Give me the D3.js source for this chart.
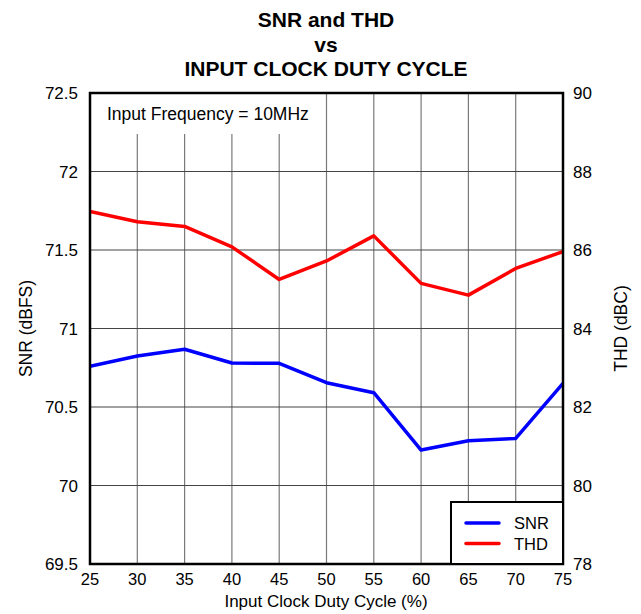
<!DOCTYPE html>
<html lang="en">
<head>
<meta charset="UTF-8">
<title>SNR and THD vs Input Clock Duty Cycle</title>
<script src="https://d3js.org/d3.v7.min.js"></script>
<style>
    body { margin: 0; background: #fff; }
    svg text { font-family: "Liberation Sans", Arial, sans-serif; fill: #000; }
</style>
</head>
<body>
<svg id="chart" width="641" height="614"></svg>
<script>
    // duty cycle (%)
    const dutyCycle = [25, 30, 35, 40, 45, 50, 55, 60, 65, 70, 75];
    // SNR (dBFS), left axis
    const snr = [70.76, 70.825, 70.868, 70.78, 70.778, 70.655, 70.591, 70.226, 70.285, 70.30, 70.651];
    // THD (dBC), right axis
    const thd = [86.98, 86.72, 86.60, 86.08, 85.25, 85.72, 86.36, 85.15, 84.85, 85.53, 85.96];

    const snrTicks = [69.5, 70, 70.5, 71, 71.5, 72, 72.5];
    const thdTicks = [78, 80, 82, 84, 86, 88, 90];

    const titleLines = ["SNR and THD", "vs", "INPUT CLOCK DUTY CYCLE"];

    const svg = d3.select("#chart");
    const margin = { left: 90, right: 563, top: 93, bottom: 564 };

    const x = d3.scaleLinear().domain([25, 75]).range([margin.left, margin.right]);
    const yL = d3.scaleLinear().domain([69.5, 72.5]).range([margin.bottom, margin.top]);
    const yR = d3.scaleLinear().domain([78, 90]).range([margin.bottom, margin.top]);

    // grid
    svg.append("g")
        .selectAll("line")
        .data(dutyCycle.slice(1, -1))
        .join("line")
        .attr("x1", d => x(d)).attr("x2", d => x(d))
        .attr("y1", margin.top).attr("y2", margin.bottom)
        .attr("stroke", "#7a7a7a").attr("stroke-width", 1.2);

    svg.append("g")
        .selectAll("line")
        .data(snrTicks.slice(1, -1))
        .join("line")
        .attr("x1", margin.left).attr("x2", margin.right)
        .attr("y1", d => yL(d)).attr("y2", d => yL(d))
        .attr("stroke", "#444").attr("stroke-width", 1.2);

    // annotation box hides the gridlines behind the text
    svg.append("rect")
        .attr("x", margin.left + 1).attr("y", margin.top)
        .attr("width", 224).attr("height", 41)
        .attr("fill", "#fff");
    svg.append("text")
        .attr("x", 107).attr("y", 120)
        .style("font-size", "17.5px")
        .text("Input Frequency = 10MHz");

    // lines
    const lineL = d3.line().x((d, i) => x(dutyCycle[i])).y(d => yL(d));
    const lineR = d3.line().x((d, i) => x(dutyCycle[i])).y(d => yR(d));

    const clipId = "plotclip";
    svg.append("clipPath").attr("id", clipId)
        .append("rect")
        .attr("x", margin.left).attr("y", margin.top)
        .attr("width", margin.right - margin.left).attr("height", margin.bottom - margin.top);

    svg.append("path").datum(thd)
        .attr("d", lineR)
        .attr("clip-path", `url(#${clipId})`)
        .attr("fill", "none").attr("stroke", "#ff0000").attr("stroke-width", 3.5)
        .attr("stroke-linejoin", "round");

    svg.append("path").datum(snr)
        .attr("d", lineL)
        .attr("clip-path", `url(#${clipId})`)
        .attr("fill", "none").attr("stroke", "#0000ff").attr("stroke-width", 3.5)
        .attr("stroke-linejoin", "round");

    // frame
    svg.append("rect")
        .attr("x", margin.left).attr("y", margin.top)
        .attr("width", margin.right - margin.left).attr("height", margin.bottom - margin.top)
        .attr("fill", "none").attr("stroke", "#000").attr("stroke-width", 2.5);

    // tick labels
    svg.append("g").selectAll("text")
        .data(snrTicks)
        .join("text")
        .attr("x", 78).attr("y", d => yL(d) + 6)
        .attr("text-anchor", "end")
        .style("font-size", "17px")
        .text(d => d);

    svg.append("g").selectAll("text")
        .data(thdTicks)
        .join("text")
        .attr("x", 573).attr("y", d => yR(d) + 6)
        .style("font-size", "17px")
        .text(d => d);

    svg.append("g").selectAll("text")
        .data(dutyCycle)
        .join("text")
        .attr("x", d => x(d)).attr("y", 585)
        .attr("text-anchor", "middle")
        .style("font-size", "16.5px")
        .text(d => d);

    // axis titles
    svg.append("text")
        .attr("x", 326).attr("y", 607)
        .attr("text-anchor", "middle")
        .style("font-size", "17px")
        .text("Input Clock Duty Cycle (%)");

    svg.append("text")
        .attr("transform", `translate(32,${(margin.top + margin.bottom) / 2}) rotate(-90)`)
        .attr("text-anchor", "middle")
        .style("font-size", "17.5px")
        .text("SNR (dBFS)");

    svg.append("text")
        .attr("transform", `translate(627,${(margin.top + margin.bottom) / 2}) rotate(-90)`)
        .attr("text-anchor", "middle")
        .style("font-size", "17.5px")
        .text("THD (dBC)");

    // title
    svg.append("g").selectAll("text")
        .data(titleLines)
        .join("text")
        .attr("x", 326)
        .attr("y", (d, i) => 27 + i * 24.5)
        .attr("text-anchor", "middle")
        .style("font-size", "21px")
        .style("font-weight", "bold")
        .text(d => d);

    // legend
    const legendKeys = ["SNR", "THD"];
    const legendColors = ["#0000ff", "#ff0000"];
    const lg = svg.append("g");
    lg.append("rect")
        .attr("x", 451).attr("y", 502)
        .attr("width", margin.right - 451).attr("height", margin.bottom - 502)
        .attr("fill", "#fff").attr("stroke", "#000").attr("stroke-width", 2);
    const rows = lg.selectAll("g.row")
        .data(legendKeys)
        .join("g")
        .attr("class", "row")
        .attr("transform", (d, i) => `translate(0,${523 + i * 20.5})`);
    rows.append("line")
        .attr("x1", 466).attr("x2", 499)
        .attr("stroke", (d, i) => legendColors[i])
        .attr("stroke-width", 3.5).attr("stroke-linecap", "round");
    rows.append("text")
        .attr("x", 514).attr("y", 6)
        .style("font-size", "16.5px")
        .text(d => d);
</script>
</body>
</html>
